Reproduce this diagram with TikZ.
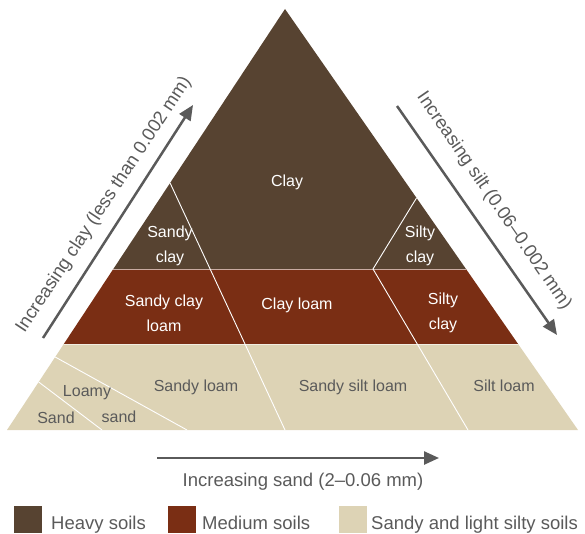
\documentclass[tikz,border=0pt]{standalone}
\usepackage{fontspec}
\setmainfont{Liberation Sans}
\usetikzlibrary{arrows.meta}
\definecolor{heavy}{HTML}{574331}
\definecolor{medium}{HTML}{7A2E14}
\definecolor{lightsoil}{HTML}{DDD3B5}
\definecolor{ink}{HTML}{5A5A5A}
\begin{document}
\begin{tikzpicture}[x=1pt,y=-1pt,
  region/.style={font=\fontsize{16}{25}\selectfont, align=center, inner sep=0pt},
  ondark/.style={region, text=white},
  onlight/.style={region, text=ink},
  divider/.style={draw=white, line width=0.9pt},
  bandline/.style={draw=white, draw opacity=0.6, line width=1pt},
  axisarrow/.style={draw=ink, line width=2.5pt, -{Triangle[length=15pt,width=13pt]}},
  axislabel/.style={font=\fontsize{18.5}{22}\selectfont, text=ink, inner sep=0pt},
  swatch/.style={minimum width=28pt, minimum height=27pt, inner sep=0pt, draw=none},
  legendtext/.style={font=\fontsize{18.5}{22}\selectfont, text=ink, inner sep=0pt, anchor=base west}
]
\useasboundingbox (0,0) rectangle (585,534);

% triangle corners and band edges
\coordinate (A) at (285,9);
\coordinate (BL) at (7,430);
\coordinate (BR) at (578,430);
\coordinate (L1) at (113.3,269);
\coordinate (R1) at (466,269);
\coordinate (L2) at (63.8,344);
\coordinate (R2) at (518.1,344);

\fill[heavy] (A) -- (L1) -- (R1) -- cycle;
\fill[medium] (L1) -- (L2) -- (R2) -- (R1) -- cycle;
\fill[lightsoil] (L2) -- (BL) -- (BR) -- (R2) -- cycle;

% band separators
\draw[bandline] (L1) -- (R1);
\draw[bandline] (L2) -- (R2);

% internal dividers
\coordinate (sc1) at (170.1,183);
\coordinate (sc2) at (285,430);
\draw[divider] (sc1) -- (sc2);
\coordinate (si1) at (416.5,198);
\coordinate (si2) at (373,269);
\coordinate (si3) at (468,430);
\draw[divider] (si1) -- (si2) -- (si3);
\coordinate (sl1) at (55.2,357);
\coordinate (sl2) at (187,430);
\draw[divider] (sl1) -- (sl2);
\coordinate (sd1) at (38.7,382);
\coordinate (sd2) at (102,430);
\draw[divider] (sd1) -- (sd2);

% region labels
\node[ondark] (clay) at (287,182) {Clay};
\node[ondark] (sandyclay) at (170,246) {Sandy\\clay};
\node[ondark] (siltyclayT) at (420,246) {Silty\\clay};
\node[ondark] (sandyclayloam) at (164,313) {Sandy clay\\loam};
\node[ondark] (clayloam) at (297,305) {Clay loam};
\node[ondark] (siltyclayM) at (443,313) {Silty\\clay};
\node[onlight] (sandyloam) at (196,387) {Sandy loam};
\node[onlight] (loamy) at (87,393) {Loamy};
\node[onlight] (sandw) at (119,417) {sand};
\node[onlight] (sand) at (56,418) {Sand};
\node[onlight] (sandysiltloam) at (353,387) {Sandy silt loam};
\node[onlight] (siltloam) at (504,386) {Silt loam};

% axis arrows
\coordinate (ca1) at (43,338);
\coordinate (ca2) at (193,105);
\draw[axisarrow] (ca1) -- (ca2);
\node[axislabel, rotate=56.5] (claylabel) at (104,205) {Increasing clay (less than 0.002 mm)};

\coordinate (sa1) at (397,106);
\coordinate (sa2) at (557,335);
\draw[axisarrow] (sa1) -- (sa2);
\node[axislabel, rotate=-55.5] (siltlabel) at (494,201) {Increasing silt (0.06–0.002 mm)};

\coordinate (na1) at (157,458);
\coordinate (na2) at (439,458);
\draw[axisarrow] (na1) -- (na2);
\node[axislabel] (sandlabel) at (303,482) {Increasing sand (2–0.06 mm)};

% legend
\node[swatch, fill=heavy] (sw1) at (28,519.5) {};
\node[legendtext] (lg1) at (51,529) {Heavy soils};
\node[swatch, fill=medium] (sw2) at (182,519.5) {};
\node[legendtext] (lg2) at (202,529) {Medium soils};
\node[swatch, fill=lightsoil] (sw3) at (353,519.5) {};
\node[legendtext] (lg3) at (371,529) {Sandy and light silty soils};
\end{tikzpicture}
\end{document}
